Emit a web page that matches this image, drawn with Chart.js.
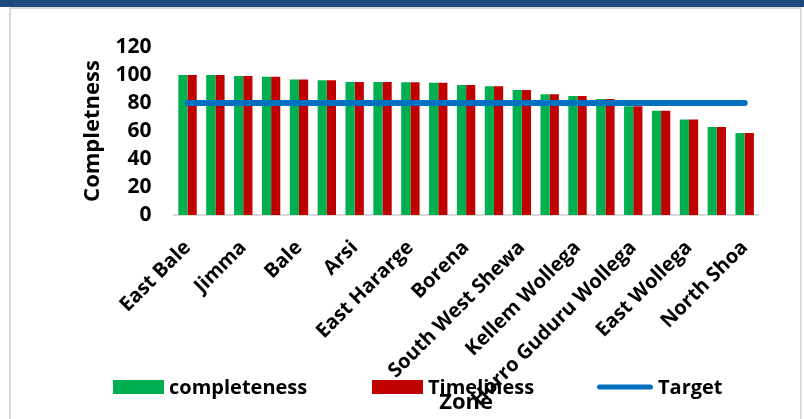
<!DOCTYPE html>
<html>
<head>
<meta charset="utf-8">
<script src="https://cdn.jsdelivr.net/npm/chart.js@4/dist/chart.umd.min.js"></script>
<style>
  html, body { margin: 0; padding: 0; background: #fff; }
  #page { position: relative; width: 804px; height: 419px; overflow: hidden; background: #fff; }
  #band { position: absolute; left: 0; top: 0; width: 804px; height: 7px; background: #1f497d; }
  #frame { position: absolute; left: 9px; top: 7px; width: 793px; height: 440px;
           border: 2px solid #dadada; box-sizing: border-box; }
  #chart { position: absolute; left: 0; top: 0; }
</style>
</head>
<body>
<div id="page">
  <div id="band"></div>
  <div id="frame"></div>
  <canvas id="chart" width="804" height="419"></canvas>
</div>
<script>
// Zones, sorted by reporting completeness (every other zone carries a printed name)
const zones = [
  "East Bale", "", "Jimma", "", "Bale", "", "Arsi", "", "East Hararge", "",
  "Borena", "", "South West Shewa", "", "Kellem Wollega", "", "Horro Guduru Wollega", "",
  "East Wollega", "", "North Shoa"
];

// Report completeness (%) per zone
const completeness = [
  100, 100, 99.3, 98.8, 96.7, 96.3, 95.0, 95.0, 94.8, 94.5,
  92.9, 91.9, 89.3, 86.2, 85.0, 82.9, 77.6, 74.5, 68.3, 62.9, 58.6
];

// Report timeliness (%) per zone
const timeliness = [
  100, 100, 99.3, 98.8, 96.7, 96.3, 95.0, 95.0, 94.8, 94.5,
  92.9, 91.9, 89.3, 86.2, 85.0, 82.9, 77.6, 74.5, 68.3, 62.9, 58.6
];

// Performance target (%)
const target = [
  80, 80, 80, 80, 80, 80, 80, 80, 80, 80,
  80, 80, 80, 80, 80, 80, 80, 80, 80, 80, 80
];

// Y axis tick range
const yTicks = { min: 0, max: 120, step: 20 };

const FONT = "'Open Sans', 'DejaVu Sans', sans-serif";

// Single-row legend under the axis labels
const rowLegend = {
  id: 'rowLegend',
  afterDraw(chart, args, opts) {
    const ctx = chart.ctx;
    ctx.save();
    ctx.font = `bold ${opts.fontSize}px ${FONT}`;
    ctx.textBaseline = 'middle';
    ctx.textAlign = 'left';
    chart.data.datasets.forEach((ds, i) => {
      const x = opts.xs[i];
      const y = opts.y;
      let end;
      if (ds.type === 'line') {
        ctx.strokeStyle = ds.borderColor;
        ctx.lineWidth = opts.lineWidth;
        ctx.lineCap = 'round';
        ctx.beginPath();
        ctx.moveTo(x + opts.lineWidth / 2, y);
        ctx.lineTo(x + opts.lineLength - opts.lineWidth / 2, y);
        ctx.stroke();
        end = x + opts.lineLength;
      } else {
        ctx.fillStyle = ds.backgroundColor;
        ctx.fillRect(x, y - opts.boxHeight / 2, opts.boxWidth, opts.boxHeight);
        end = x + opts.boxWidth;
      }
      ctx.fillStyle = '#000';
      ctx.fillText(ds.label, end + opts.gap, y + 1);
    });
    ctx.restore();
  }
};

function draw() {
  const ctx = document.getElementById('chart').getContext('2d');
  new Chart(ctx, {
    type: 'bar',
    data: {
      labels: zones,
      datasets: [
        { label: 'completeness', data: completeness, backgroundColor: '#00b050', order: 1 },
        { label: 'Timeliness', data: timeliness, backgroundColor: '#c00000', order: 1 },
        { type: 'line', label: 'Target', data: target, borderColor: '#0070c0',
          backgroundColor: '#0070c0', borderWidth: 6, borderCapStyle: 'round',
          pointRadius: 0, tension: 0, order: 0 }
      ]
    },
    options: {
      responsive: false,
      animation: false,
      devicePixelRatio: 1,
      layout: { padding: { left: 70, right: 45.4, top: 47, bottom: 0 } },
      datasets: { bar: { categoryPercentage: 0.66, barPercentage: 1 } },
      scales: {
        x: {
          grid: { display: false, drawTicks: false },
          border: { display: true, color: '#d9d9d9', width: 2 },
          ticks: {
            autoSkip: false, minRotation: 45, maxRotation: 45, padding: 21,
            color: '#000', font: { family: FONT, size: 20, weight: 'bold' }
          },
          title: {
            display: true, text: 'Zone', color: '#000',
            font: { family: FONT, size: 22, weight: 'bold' },
            padding: { top: 0, bottom: 3 }
          },
          afterFit(scale) { scale.height = 204; }
        },
        y: {
          min: yTicks.min, max: yTicks.max,
          grid: { display: false, drawTicks: false },
          border: { display: false },
          ticks: {
            stepSize: yTicks.step, autoSkip: false, padding: 22, color: '#000',
            font: { family: FONT, size: 21, weight: 'bold' }
          },
          title: {
            display: true, text: 'Completness', color: '#000',
            font: { family: FONT, size: 22, weight: 'bold' },
            padding: { top: 10, bottom: 0 }
          },
          afterFit(scale) { scale.width = 103.6; }
        }
      },
      plugins: {
        legend: { display: false },
        tooltip: { enabled: false },
        rowLegend: {
          xs: [113, 372, 597], y: 387, boxWidth: 51, boxHeight: 14,
          lineLength: 56, lineWidth: 5, gap: 5, fontSize: 20
        }
      }
    },
    plugins: [rowLegend]
  });
}

if (document.fonts && document.fonts.load) {
  Promise.all([
    document.fonts.load(`bold 20px 'Open Sans'`)
  ]).then(draw, draw);
} else {
  draw();
}
</script>
</body>
</html>
